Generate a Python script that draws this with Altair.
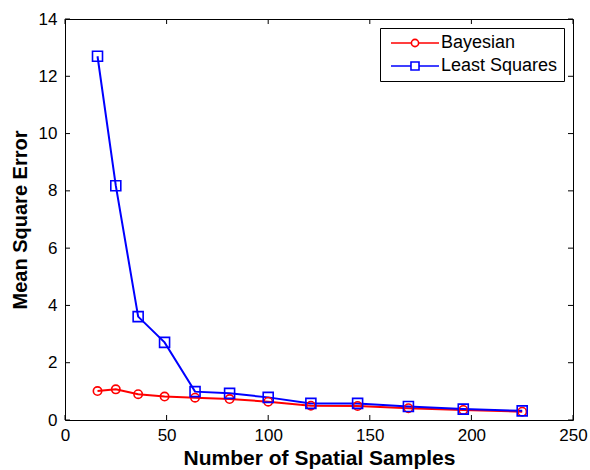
import altair as alt
import pandas as pd

samples = [16, 25, 36, 49, 64, 81, 100, 121, 144, 169, 196, 225]
bayesian = [1.01, 1.07, 0.90, 0.82, 0.78, 0.73, 0.64, 0.50, 0.49, 0.41, 0.35, 0.29]
least_squares = [12.7, 8.18, 3.61, 2.71, 0.99, 0.93, 0.79, 0.58, 0.58, 0.47, 0.38, 0.32]
series = ["Bayesian", "Least Squares"]
colors = ["#ff0000", "#0000ff"]
x_ticks = [0, 50, 100, 150, 200, 250]
y_ticks = [0, 2, 4, 6, 8, 10, 12, 14]

df = pd.DataFrame({
    "n": samples * 2,
    "mse": bayesian + least_squares,
    "method": [series[0]] * len(samples) + [series[1]] * len(samples),
})
xt = pd.DataFrame({"v": x_ticks})
yt = pd.DataFrame({"v": y_ticks})

FONT = "Liberation Sans"
W, H = 508, 401

xs = alt.Scale(domain=[0, 250], nice=False)
ys = alt.Scale(domain=[0, 14], nice=False)
cs = alt.Scale(domain=series, range=colors)

xaxis = alt.Axis(values=x_ticks, grid=False, ticks=False, domain=False, labelPadding=7,
                 labelFlush=False,
                 labelFont=FONT, labelFontSize=17, labelColor="black",
                 title="Number of Spatial Samples", titleFont=FONT, titleFontSize=21,
                 titleFontWeight="bold", titleColor="black", titlePadding=4)
yaxis = alt.Axis(values=y_ticks, grid=False, ticks=False, domain=False, labelPadding=8,
                 labelFlush=False,
                 labelFont=FONT, labelFontSize=17, labelColor="black",
                 title="Mean Square Error", titleFont=FONT, titleFontSize=20,
                 titleFontWeight="bold", titleColor="black", titlePadding=8)

X = alt.X("n:Q", scale=xs, axis=xaxis)
Y = alt.Y("mse:Q", scale=ys, axis=yaxis)

base = alt.Chart(df)

lines = base.mark_line(strokeWidth=2).encode(
    x=X, y=Y, color=alt.Color("method:N", scale=cs, legend=None), detail="method:N"
)
points = base.mark_point(filled=False, strokeWidth=1.6, opacity=1).encode(
    x=X, y=Y,
    color=alt.Color("method:N", scale=cs, legend=None),
    shape=alt.Shape("method:N", scale=alt.Scale(domain=series, range=["circle", "square"]), legend=None),
    size=alt.Size("method:N", scale=alt.Scale(domain=series, range=[70, 100]), legend=None),
)

# legend glyphs: line segment with marker (unit = 6 px when symbolSize = 144)
path_circle = "M-4,0H-0.6M0.6,0H4M0.6,0A0.6,0.6,0,1,1,-0.6,0A0.6,0.6,0,1,1,0.6,0"
path_square = "M-4,0H-0.67M0.67,0H4M-0.67,-0.67H0.67V0.67H-0.67Z"

legend = alt.Legend(orient="none", legendX=315, legendY=9, title=None,
                    strokeColor="black", fillColor="white", padding=6, cornerRadius=0,
                    labelFont=FONT, labelFontSize=18, labelColor="black",
                    symbolOffset=20, labelOffset=17,
                    symbolSize=144, symbolStrokeWidth=1.6, symbolOpacity=1, rowPadding=5)

legend_layer = base.mark_point(filled=False, opacity=1).encode(
    x=X, y=Y,
    color=alt.Color("method:N", scale=alt.Scale(domain=series, range=colors), legend=legend),
    shape=alt.Shape("method:N", scale=alt.Scale(domain=series, range=[path_circle, path_square]), legend=legend),
).transform_filter("datum.n < 0")

tk = 5
bottom_ticks = alt.Chart(xt).mark_rule(color="black", strokeWidth=1).encode(
    x=alt.X("v:Q", scale=xs), y=alt.value(H), y2=alt.value(H - tk))
top_ticks = alt.Chart(xt).mark_rule(color="black", strokeWidth=1).encode(
    x=alt.X("v:Q", scale=xs), y=alt.value(0), y2=alt.value(tk))
left_ticks = alt.Chart(yt).mark_rule(color="black", strokeWidth=1).encode(
    y=alt.Y("v:Q", scale=ys), x=alt.value(0), x2=alt.value(tk))
right_ticks = alt.Chart(yt).mark_rule(color="black", strokeWidth=1).encode(
    y=alt.Y("v:Q", scale=ys), x=alt.value(W), x2=alt.value(W - tk))

chart = alt.layer(
    bottom_ticks, top_ticks, left_ticks, right_ticks, lines, points, legend_layer
).resolve_scale(shape="independent", color="independent").properties(
    width=W, height=H,
    padding={"left": 65, "top": 19, "right": 17, "bottom": 50},
    autosize=alt.AutoSizeParams(type="none"),
    background="white",
).configure_view(stroke="black", strokeWidth=1)

chart.save("out.html", embed_options={"renderer": "svg", "actions": False})
